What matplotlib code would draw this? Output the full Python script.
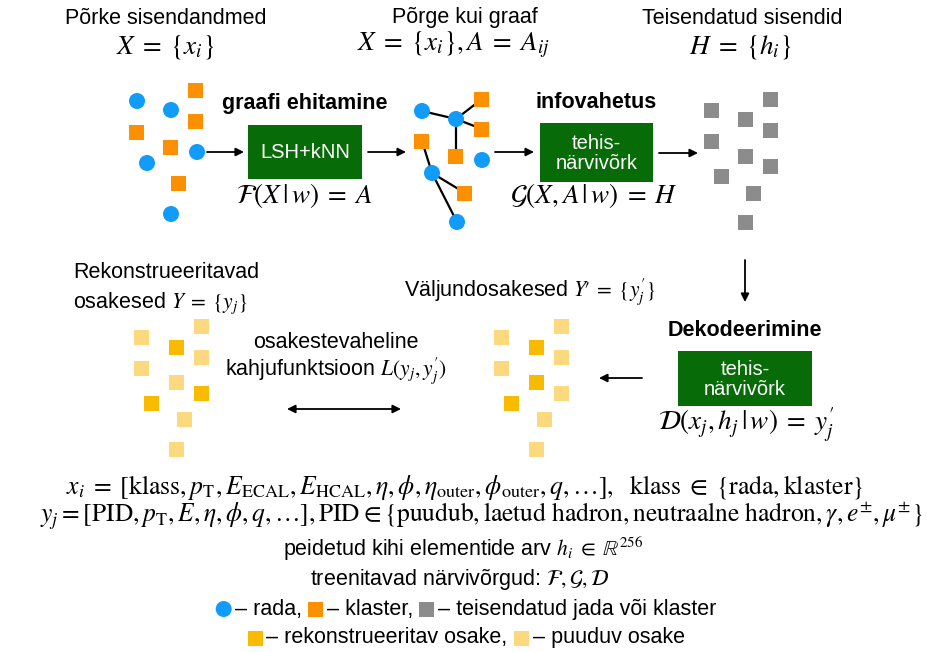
import matplotlib
matplotlib.use('Agg')
import matplotlib.pyplot as plt
from matplotlib.patches import Rectangle, Circle, FancyArrowPatch

plt.rcParams['mathtext.fontset'] = 'stix'
plt.rcParams['font.family'] = ['Liberation Sans', 'DejaVu Sans']

# colours
BLUE = '#109cf8'
ORANGE = '#fd9000'
GREY = '#8c8c8c'
GREEN = '#076c07'
YDARK = '#f8bb00'
YLIGHT = '#fcd97e'

# node sets (pixel coordinates of the reference picture)
in_circles = [(137, 101), (171, 110), (197, 152), (147, 163), (171, 214)]
in_squares = [(196, 90), (196, 121), (137, 132), (171, 147), (179, 183)]

graph_circles = [(422, 111), (456, 119), (482, 160), (432, 173), (457, 222)]
graph_squares = [(482, 99), (482, 129), (456, 156), (422, 141), (465, 193)]
graph_edges = [((422, 111), (456, 119)), ((456, 119), (482, 99)),
               ((456, 119), (482, 129)), ((456, 119), (456, 156)),
               ((422, 141), (432, 173)), ((432, 173), (465, 193)),
               ((432, 173), (457, 222))]

hidden_squares = [(712, 110), (712, 141), (722, 176), (746, 119), (746, 156),
                  (754, 193), (746, 222), (771, 99), (771, 130), (771, 166)]

out_dark = [(537, 347), (537, 382), (512, 403)]
out_light = [(502, 337), (502, 368), (545, 419), (537, 449),
             (562, 326), (562, 357), (562, 393)]
tgt_dark = [(177, 347), (152, 403), (202, 393)]
tgt_light = [(142, 337), (142, 368), (177, 382), (185, 419), (177, 449),
             (202, 326), (202, 357)]

W, H = 928, 652
fig = plt.figure(figsize=(W / 100, H / 100), dpi=100)
ax = fig.add_axes([0, 0, 1, 1])
ax.set_xlim(0, W)
ax.set_ylim(H, 0)
ax.axis('off')

SQ = 15
FS = 15.5   # sans labels
FM = 19.5   # formulas

def squares(pts, color):
    for x, y in pts:
        ax.add_patch(Rectangle((x - SQ / 2, y - SQ / 2), SQ, SQ, facecolor=color,
                               edgecolor='none', zorder=3))


def circles(pts, color):
    for x, y in pts:
        ax.add_patch(Circle((x, y), 8, facecolor=color, edgecolor='none', zorder=3))


def arrow(p0, p1, style='-|>'):
    ax.add_patch(FancyArrowPatch(p0, p1, arrowstyle=style, mutation_scale=12,
                                 color='black', lw=1.3, shrinkA=0, shrinkB=0))


def nnbox(x0, y0, x1, y1, label):
    ax.add_patch(Rectangle((x0, y0), x1 - x0, y1 - y0, facecolor=GREEN,
                           edgecolor='none'))
    ax.text((x0 + x1) / 2, (y0 + y1) / 2 + 1, label, color='white', fontsize=14.5,
            ha='center', va='center', linespacing=1.05)


# --- top row ---
circles(in_circles, BLUE)
squares(in_squares, ORANGE)
ax.text(166, 19, 'Põrke sisendandmed', fontsize=FS, ha='center', va='center')
ax.text(165, 47, r'$X\;=\;\{x_i\}$', fontsize=FM, ha='center', va='center')

arrow((207, 152), (244, 152))
ax.text(305, 103, 'graafi ehitamine', fontsize=FS, weight='bold',
        ha='center', va='center')
nnbox(248, 125, 362, 179, 'LSH+kNN')
ax.text(304, 196, r'$\mathcal{F}(X\,|\,w)\;=\;A$', fontsize=FM, ha='center', va='center')
arrow((368, 152), (406, 152))

for (a, b) in graph_edges:
    ax.plot([a[0], b[0]], [a[1], b[1]], color='black', lw=1.6, zorder=2)
circles(graph_circles, BLUE)
squares(graph_squares, ORANGE)
ax.text(465, 17, 'Põrge kui graaf', fontsize=FS, ha='center', va='center')
ax.text(453, 45, r'$X\;=\;\{x_i\}, A\;=\;A_{ij}$', fontsize=FM, ha='center', va='center')

arrow((495, 152), (534, 152))
ax.text(596, 103, 'infovahetus', fontsize=FS, weight='bold', ha='center', va='center')
nnbox(540, 123, 653, 182, 'tehis-\nnärvivõrk')
ax.text(594, 196, r'$\mathcal{G}(X, A\,|\,w)\;=\;H$', fontsize=FM, ha='center', va='center')
arrow((659, 153), (698, 153))

squares(hidden_squares, GREY)
ax.text(742, 18, 'Teisendatud sisendid', fontsize=FS, ha='center', va='center')
ax.text(740, 47, r'$H\;=\;\{h_i\}$', fontsize=FM, ha='center', va='center')

# --- decoder ---
arrow((745, 260), (745, 302))
ax.text(745, 331, 'Dekodeerimine', fontsize=FS, weight='bold', ha='center', va='center')
nnbox(678, 351, 812, 406, 'tehis-\nnärvivõrk')
ax.text(746, 424, r"$\mathcal{D}(x_j, h_j\,|\,w)\;=\;y^{\prime}_j$", fontsize=FM,
        ha='center', va='center')
arrow((642, 378), (599, 378))

# --- output and target particles ---
squares(out_light, YLIGHT)
squares(out_dark, YDARK)
squares(tgt_light, YLIGHT)
squares(tgt_dark, YDARK)
ax.text(530, 292, r"Väljundosakesed $Y\!\prime\;=\;\{y^{\prime}_j\}$", fontsize=FS,
        ha='center', va='center')
ax.text(73, 273, 'Rekonstrueeritavad', fontsize=FS, ha='left', va='center')
ax.text(73, 303, r'osakesed $Y\;=\;\{y_j\}$', fontsize=FS, ha='left', va='center')
ax.text(336, 342, 'osakestevaheline', fontsize=FS, ha='center', va='center')
ax.text(336, 371, r"kahjufunktsioon $L(y_j, y^{\prime}_j)$", fontsize=FS,
        ha='center', va='center')
arrow((287, 409), (401, 409), style='<|-|>')

# --- bottom description ---
ax.text(465, 487,
        r'$x_i\;=\;[\mathrm{klass}, p_\mathrm{T}, E_\mathrm{ECAL}, E_\mathrm{HCAL}, \eta, \phi, '
        r'\eta_\mathrm{outer}, \phi_\mathrm{outer}, q, \ldots],\ \ \mathrm{klass}\;\in\;'
        r'\{\mathrm{rada}, \mathrm{klaster}\}$',
        fontsize=18.5, ha='center', va='center')
ax.text(481, 516,
        r'$y_j=[\mathrm{PID}, p_\mathrm{T}, E, \eta, \phi, q, \ldots], \mathrm{PID}\in'
        r'\{\mathrm{puudub}, \mathrm{laetud\ hadron}, \mathrm{neutraalne\ hadron}, '
        r'\gamma, e^{\pm}, \mu^{\pm}\}$',
        fontsize=18.4, ha='center', va='center')
ax.text(463, 549, r'peidetud kihi elementide arv $h_i\;\in\;\mathbb{R}^{256}$',
        fontsize=FS, ha='center', va='center')
ax.text(460, 580, r'treenitavad närvivõrgud: $\mathcal{F}, \mathcal{G}, \mathcal{D}$',
        fontsize=FS, ha='center', va='center')

renderer = fig.canvas.get_renderer()


def legend_row(y, items):
    # markers and plain strings, laid out left to right and centred
    texts = []
    total = 0
    for kind, val in items:
        if kind == 'text':
            t = ax.text(0, y, val, fontsize=FS, ha='left', va='center')
            w = t.get_window_extent(renderer).width
            texts.append((t, w))
            total += w
        else:
            total += 19
    x = 466 - total / 2
    ti = 0
    for kind, val in items:
        if kind == 'text':
            t, w = texts[ti]
            ti += 1
            t.set_x(x)
            x += w
        elif kind == 'o':
            circles([(x + 8, y)], val)
            x += 19
        else:
            squares([(x + 8, y)], val)
            x += 19


legend_row(609, [('o', BLUE), ('text', '– rada, '), ('s', ORANGE),
                 ('text', '– klaster, '), ('s', GREY),
                 ('text', '– teisendatud jada või klaster')])
legend_row(638, [('s', YDARK), ('text', '– rekonstrueeritav osake, '),
                 ('s', YLIGHT), ('text', '– puuduv osake')])

fig.savefig('out.png', dpi=100)
